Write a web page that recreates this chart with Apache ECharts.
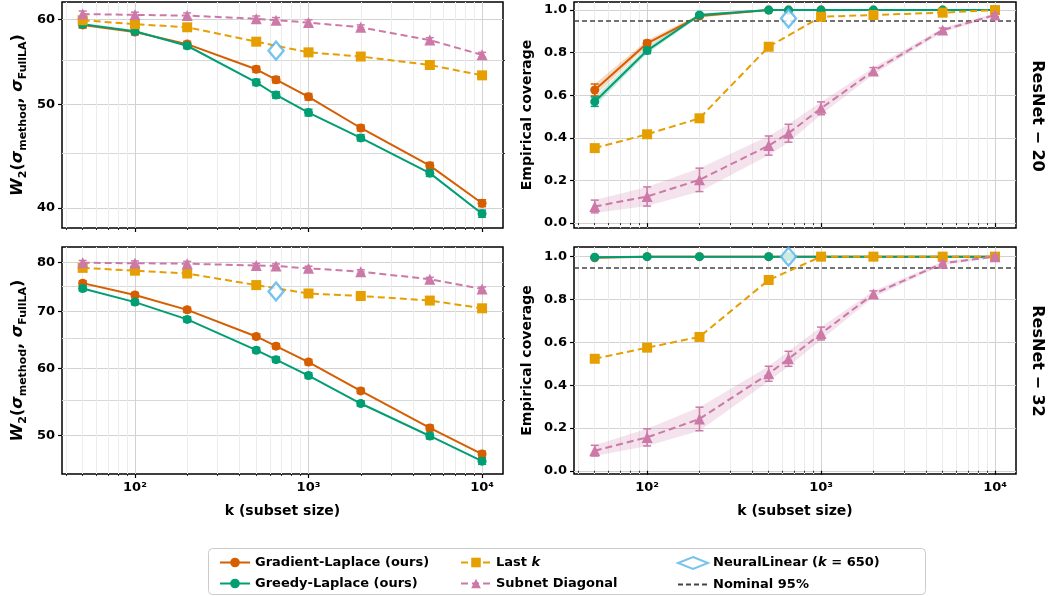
<!DOCTYPE html>
<html>
<head>
<meta charset="utf-8">
<script src="https://cdn.jsdelivr.net/npm/echarts@6/dist/echarts.min.js"></script>
<style>
html, body { margin: 0; padding: 0; background: #fff; }
#main { width: 1048px; height: 596px; }
</style>
</head>
<body>
<div id="main"></div>
<script>
// subset sizes
var K = [50, 100, 200, 500, 650, 1000, 2000, 5000, 10000];
var K_LAST = [50, 100, 200, 500, 1000, 2000, 5000, 10000];
var K_NEURAL = 650;

var X_MAJOR = [100, 1000, 10000];
var X_MINOR = [40, 50, 60, 70, 80, 90, 200, 300, 400, 500, 600, 700, 800, 900,
               2000, 3000, 4000, 5000, 6000, 7000, 8000, 9000];

// ResNet-20 : W2 distance
var W2_20_GRAD   = [59.3, 58.4, 56.9, 53.9, 52.7, 50.8, 47.5, 43.8, 40.4];
var W2_20_GREEDY = [59.4, 58.5, 56.7, 52.4, 51.0, 49.1, 46.5, 43.1, 39.5];
var W2_20_LAST   = [59.9, 59.4, 59.0, 57.2, 55.9, 55.4, 54.4, 53.2];
var W2_20_SUBNET = [60.7, 60.6, 60.5, 60.1, 59.9, 59.6, 59.0, 57.4, 55.6];
var W2_20_NEURAL = 56.1;
var W2_20_ERR    = [0.4, 0.35, 0.35, 0.35, 0.35, 0.35, 0.3, 0.3, 0.3];

// ResNet-20 : coverage
var COV_20_GRAD       = [0.625, 0.844, 0.972, 1.0, 1.0, 1.0, 1.0, 1.0, 1.0];
var COV_20_GRAD_ERR   = [0.028, 0.014, 0.008, 0.002, 0.002, 0.002, 0.002, 0.002, 0.002];
var COV_20_GREEDY     = [0.57, 0.81, 0.977, 1.0, 1.0, 1.0, 1.0, 1.0, 1.0];
var COV_20_GREEDY_ERR = [0.022, 0.014, 0.008, 0.002, 0.002, 0.002, 0.002, 0.002, 0.002];
var COV_20_LAST       = [0.352, 0.417, 0.492, 0.828, 0.969, 0.977, 0.988, 1.0];
var COV_20_LAST_ERR   = [0.008, 0.008, 0.008, 0.008, 0.006, 0.004, 0.003, 0.002];
var COV_20_SUBNET     = [0.078, 0.125, 0.203, 0.364, 0.422, 0.539, 0.714, 0.906, 0.977];
var COV_20_SUBNET_ERR = [0.03, 0.045, 0.055, 0.045, 0.042, 0.03, 0.016, 0.01, 0.008];
var COV_20_NEURAL     = 0.961;

// ResNet-32 : W2 distance
var W2_32_GRAD   = [75.6, 73.2, 70.3, 65.4, 63.7, 61.0, 56.4, 51.0, 47.5];
var W2_32_GREEDY = [74.5, 71.8, 68.5, 63.0, 61.4, 58.8, 54.5, 49.9, 46.6];
var W2_32_LAST   = [78.8, 78.2, 77.6, 75.2, 73.5, 73.0, 72.1, 70.6];
var W2_32_SUBNET = [79.9, 79.8, 79.7, 79.3, 79.2, 78.7, 78.0, 76.4, 74.4];
var W2_32_NEURAL = 73.9;
var W2_32_ERR    = [0.5, 0.5, 0.5, 0.45, 0.45, 0.45, 0.4, 0.4, 0.4];

// ResNet-32 : coverage
var COV_32_GRAD       = [0.995, 1.0, 1.0, 1.0, 1.0, 1.0, 1.0, 1.0, 1.0];
var COV_32_GRAD_ERR   = [0.004, 0, 0, 0, 0, 0, 0, 0, 0];
var COV_32_GREEDY     = [0.997, 1.0, 1.0, 1.0, 1.0, 1.0, 1.0, 1.0, 1.0];
var COV_32_GREEDY_ERR = [0.003, 0, 0, 0, 0, 0, 0, 0, 0];
var COV_32_LAST       = [0.523, 0.575, 0.625, 0.891, 1.0, 1.0, 1.0, 1.0];
var COV_32_LAST_ERR   = [0.008, 0.008, 0.008, 0.006, 0, 0, 0, 0];
var COV_32_SUBNET     = [0.094, 0.156, 0.242, 0.453, 0.523, 0.641, 0.825, 0.969, 1.0];
var COV_32_SUBNET_ERR = [0.025, 0.04, 0.055, 0.035, 0.035, 0.03, 0.015, 0.008, 0.005];
var COV_32_NEURAL     = 1.0;

var NOMINAL = 0.95;

var C_GRAD = '#D55E00', C_GREEDY = '#009E73', C_LAST = '#E69F00',
    C_SUBNET = '#CC79A7', C_NEURAL = '#56B4E9';
var FONT = 'DejaVu Sans';

var chart = echarts.init(document.getElementById('main'));

var grids = [
  { left: 62, top: 2, width: 441, height: 226 },
  { left: 574, top: 2, width: 442, height: 226 },
  { left: 62, top: 247, width: 441, height: 227 },
  { left: 574, top: 247, width: 442, height: 227 }
];
grids.forEach(function (g) {
  g.show = true; g.borderColor = '#000'; g.borderWidth = 1.5;
  g.backgroundColor = 'transparent'; g.containLabel = false;
});

var SUP = { 2: '\u00b2', 3: '\u00b3', 4: '\u2074' };

function xAxes(gi, withLabels) {
  return [
    {
      type: 'log', logBase: 10, gridIndex: gi, min: 38, max: 13200, position: 'bottom',
      axisLine: { show: false },
      axisTick: { customValues: X_MAJOR, length: 4, lineStyle: { color: '#000', width: 1.2 } },
      axisLabel: {
        show: withLabels, customValues: X_MAJOR, margin: 7,
        color: '#000', fontFamily: FONT, fontWeight: 'bold', fontSize: 13,
        formatter: function (v) { return '10' + SUP[Math.round(Math.log10(v))]; }
      },
      splitLine: { show: true, lineStyle: { color: '#d2d2d2', width: 1 } },
      name: withLabels ? 'k (subset size)' : '', nameLocation: 'middle', nameGap: 30,
      nameTextStyle: { color: '#000', fontFamily: FONT, fontWeight: 'bold', fontSize: 14 }
    },
    {
      type: 'log', logBase: 10, gridIndex: gi, min: 38, max: 13200, position: 'bottom',
      axisLine: { show: false },
      axisTick: { customValues: X_MINOR, length: 2, lineStyle: { color: '#000', width: 0.8 } },
      axisLabel: { show: false },
      splitLine: { show: true, lineStyle: { color: '#ececec', width: 1 } }
    }
  ];
}

var W2_NAME = '{w|W}{s|2}{p|(}{w|\u03c3}{s|method}{p|, }{w|\u03c3}{s|FullLA}{p|)}';
var W2_RICH = {
  w: { fontFamily: FONT, fontWeight: 'bold', fontStyle: 'italic', fontSize: 16, lineHeight: 22, color: '#000' },
  p: { fontFamily: FONT, fontWeight: 'bold', fontSize: 16, lineHeight: 22, color: '#000' },
  s: { fontFamily: FONT, fontWeight: 'bold', fontSize: 11, lineHeight: 12, verticalAlign: 'bottom', color: '#000' }
};

function yAxesW2(gi, min, max, major, minor) {
  return [
    {
      type: 'log', logBase: 10, gridIndex: gi, min: min, max: max,
      axisLine: { show: false },
      axisTick: { customValues: major, length: 4, lineStyle: { color: '#000', width: 1.2 } },
      axisLabel: { customValues: major, color: '#000', fontFamily: FONT, fontWeight: 'bold', fontSize: 13, margin: 7 },
      splitLine: { show: true, lineStyle: { color: '#d2d2d2' } },
      name: W2_NAME, nameLocation: 'middle', nameGap: 33,
      nameTextStyle: { rich: W2_RICH }
    },
    {
      type: 'log', logBase: 10, gridIndex: gi, min: min, max: max,
      axisLine: { show: false },
      axisTick: { customValues: minor, length: 2, lineStyle: { color: '#000', width: 0.8 } },
      axisLabel: { show: false },
      splitLine: { show: true, lineStyle: { color: '#d8d8d8' } }
    }
  ];
}

function yAxesCov(gi, min, max) {
  var ticks = [0, 0.2, 0.4, 0.6, 0.8, 1.0];
  return [
    {
      type: 'value', gridIndex: gi, min: min, max: max,
      axisLine: { show: false },
      axisTick: { customValues: ticks, length: 4, lineStyle: { color: '#000', width: 1.2 } },
      axisLabel: {
        customValues: ticks, color: '#000', fontFamily: FONT, fontWeight: 'bold', fontSize: 13, margin: 7,
        formatter: function (v) { return v.toFixed(1); }
      },
      splitLine: { show: true, lineStyle: { color: '#d2d2d2' } },
      name: 'Empirical coverage', nameLocation: 'middle', nameGap: 40,
      nameTextStyle: { color: '#000', fontFamily: FONT, fontWeight: 'bold', fontSize: 14 }
    },
    {
      type: 'value', gridIndex: gi, min: min, max: max, show: false
    }
  ];
}

function zip(xs, ys) { return xs.map(function (x, i) { return [x, ys[i]]; }); }

function lineSeries(gi, name, xs, ys, color, symbol, size, dashed, z) {
  return {
    type: 'line', name: name, xAxisIndex: 2 * gi, yAxisIndex: 2 * gi,
    data: zip(xs, ys), symbol: symbol, symbolSize: size, showSymbol: true,
    itemStyle: { color: color },
    lineStyle: { color: color, width: 2, type: dashed ? [7, 4] : 'solid' },
    z: z, animation: false
  };
}

function errorSeries(gi, xs, ys, errs, color, z) {
  return {
    type: 'custom', xAxisIndex: 2 * gi, yAxisIndex: 2 * gi, z: z, silent: true, animation: false,
    itemStyle: { color: color },
    data: xs.map(function (x, i) { return [x, ys[i] - errs[i], ys[i] + errs[i]]; }),
    renderItem: function (params, api) {
      var x = api.value(0);
      var a = api.coord([x, api.value(1)]), b = api.coord([x, api.value(2)]);
      var st = { stroke: color, lineWidth: 1.5 };
      var c = 4;
      return { type: 'group', children: [
        { type: 'line', shape: { x1: a[0], y1: a[1], x2: b[0], y2: b[1] }, style: st },
        { type: 'line', shape: { x1: a[0] - c, y1: a[1], x2: a[0] + c, y2: a[1] }, style: st },
        { type: 'line', shape: { x1: b[0] - c, y1: b[1], x2: b[0] + c, y2: b[1] }, style: st }
      ] };
    }
  };
}

function bandSeries(gi, xs, ys, errs, color) {
  var rows = xs.map(function (x, i) { return [x, ys[i] - errs[i], ys[i] + errs[i]]; });
  return {
    type: 'custom', xAxisIndex: 2 * gi, yAxisIndex: 2 * gi, z: 1, silent: true, animation: false,
    data: rows,
    renderItem: function (params, api) {
      if (params.dataIndex !== 0) return null;
      var pts = [];
      rows.forEach(function (r) { pts.push(api.coord([r[0], r[1]])); });
      for (var i = rows.length - 1; i >= 0; i--) pts.push(api.coord([rows[i][0], rows[i][2]]));
      return { type: 'polygon', shape: { points: pts }, style: { fill: color, opacity: 0.22 } };
    }
  };
}

function neuralSeries(gi, y) {
  return {
    type: 'scatter', name: 'NeuralLinear (k = 650)', xAxisIndex: 2 * gi, yAxisIndex: 2 * gi,
    data: [[K_NEURAL, y]], symbol: 'diamond', symbolSize: [15, 18],
    itemStyle: { color: '#fff', borderColor: C_NEURAL, borderWidth: 2.4 }, z: 10, animation: false
  };
}

function nominalSeries(gi) {
  return {
    type: 'line', name: 'Nominal 95%', xAxisIndex: 2 * gi, yAxisIndex: 2 * gi, data: [],
    symbol: 'none', itemStyle: { color: '#444' },
    lineStyle: { color: '#444', width: 1.5, type: [5, 3] },
    markLine: {
      silent: true, symbol: 'none', animation: false, label: { show: false },
      lineStyle: { color: '#444', width: 1.5, type: [5, 3] },
      data: [{ yAxis: NOMINAL }]
    },
    z: 9
  };
}

var NAMES = ['Gradient-Laplace (ours)', 'Greedy-Laplace (ours)', 'Last k', 'Subnet Diagonal'];

function panelSeries(gi, d) {
  var s = [];
  if (d.subnetBand) s.push(bandSeries(gi, K, d.subnet, d.subnetBand, C_SUBNET));
  if (d.gradBand) s.push(bandSeries(gi, K, d.grad, d.gradBand, C_GRAD));
  if (d.greedyBand) s.push(bandSeries(gi, K, d.greedy, d.greedyBand, C_GREEDY));
  s.push(errorSeries(gi, K, d.grad, d.gradErr, C_GRAD, 3));
  s.push(lineSeries(gi, NAMES[0], K, d.grad, C_GRAD, 'circle', 9, false, 4));
  s.push(errorSeries(gi, K, d.greedy, d.greedyErr, C_GREEDY, 5));
  s.push(lineSeries(gi, NAMES[1], K, d.greedy, C_GREEDY, 'circle', 9, false, 6));
  s.push(errorSeries(gi, K_LAST, d.last, d.lastErr, C_LAST, 7));
  s.push(lineSeries(gi, NAMES[2], K_LAST, d.last, C_LAST, 'rect', 10, true, 7));
  s.push(errorSeries(gi, K, d.subnet, d.subnetErr, C_SUBNET, 8));
  s.push(lineSeries(gi, NAMES[3], K, d.subnet, C_SUBNET, 'triangle', 11, true, 8));
  if (d.nominal) s.push(nominalSeries(gi));
  s.push(neuralSeries(gi, d.neural));
  return s;
}

var series = [].concat(
  panelSeries(0, { grad: W2_20_GRAD, greedy: W2_20_GREEDY, last: W2_20_LAST, subnet: W2_20_SUBNET,
    gradErr: W2_20_ERR, greedyErr: W2_20_ERR, lastErr: W2_20_ERR, subnetErr: W2_20_ERR, neural: W2_20_NEURAL }),
  panelSeries(1, { grad: COV_20_GRAD, greedy: COV_20_GREEDY, last: COV_20_LAST, subnet: COV_20_SUBNET,
    gradErr: COV_20_GRAD_ERR, greedyErr: COV_20_GREEDY_ERR, lastErr: COV_20_LAST_ERR, subnetErr: COV_20_SUBNET_ERR,
    subnetBand: COV_20_SUBNET_ERR, gradBand: COV_20_GRAD_ERR, greedyBand: COV_20_GREEDY_ERR,
    neural: COV_20_NEURAL, nominal: true }),
  panelSeries(2, { grad: W2_32_GRAD, greedy: W2_32_GREEDY, last: W2_32_LAST, subnet: W2_32_SUBNET,
    gradErr: W2_32_ERR, greedyErr: W2_32_ERR, lastErr: W2_32_ERR, subnetErr: W2_32_ERR, neural: W2_32_NEURAL }),
  panelSeries(3, { grad: COV_32_GRAD, greedy: COV_32_GREEDY, last: COV_32_LAST, subnet: COV_32_SUBNET,
    gradErr: COV_32_GRAD_ERR, greedyErr: COV_32_GREEDY_ERR, lastErr: COV_32_LAST_ERR, subnetErr: COV_32_SUBNET_ERR,
    subnetBand: COV_32_SUBNET_ERR, neural: COV_32_NEURAL, nominal: true })
);

var legendText = {
  color: '#000', fontFamily: FONT, fontWeight: 'bold', fontSize: 13,
  rich: {
    b: { fontFamily: FONT, fontWeight: 'bold', fontSize: 13, color: '#000' },
    i: { fontFamily: FONT, fontWeight: 'bold', fontStyle: 'italic', fontSize: 13, color: '#000' }
  }
};
function legendFmt(name) {
  if (name === 'Last k') return '{b|Last }{i|k}';
  if (name === 'NeuralLinear (k = 650)') return '{b|NeuralLinear (}{i|k}{b| = 650)}';
  return '{b|' + name + '}';
}
function legendAt(left, names) {
  return {
    data: names, orient: 'vertical', left: left, top: 556, itemGap: 8, padding: 0,
    itemWidth: 30, itemHeight: 12, selectedMode: false, symbolKeepAspect: true,
    textStyle: legendText, formatter: legendFmt
  };
}

var option = {
  backgroundColor: '#fff',
  animation: false,
  grid: grids,
  xAxis: [].concat(xAxes(0, false), xAxes(1, false), xAxes(2, true), xAxes(3, true)),
  yAxis: [].concat(
    yAxesW2(0, 38.3, 62.3, [40, 50, 60], [45, 55]),
    yAxesCov(1, -0.023, 1.038),
    yAxesW2(2, 45.0, 83.4, [50, 60, 70, 80], [55, 65, 75]),
    yAxesCov(3, -0.015, 1.045)
  ),
  legend: [
    legendAt(219, [NAMES[0], NAMES[1]]),
    legendAt(460, [NAMES[2], NAMES[3]]),
    legendAt(677, [{ name: 'NeuralLinear (k = 650)', icon: 'diamond' },
                   { name: 'Nominal 95%', itemStyle: { opacity: 0 } }])
  ],
  graphic: [
    { type: 'rect', left: 208, top: 548, shape: { width: 717, height: 46, r: 4 },
      style: { fill: '#fff', stroke: '#cccccc', lineWidth: 1 }, z: -1 },
    { type: 'text', x: 1037, y: 116, rotation: -Math.PI / 2,
      style: { text: 'ResNet \u2212 20', font: 'bold 16px "DejaVu Sans"', fill: '#000', align: 'center', verticalAlign: 'middle' } },
    { type: 'text', x: 1037, y: 361, rotation: -Math.PI / 2,
      style: { text: 'ResNet \u2212 32', font: 'bold 16px "DejaVu Sans"', fill: '#000', align: 'center', verticalAlign: 'middle' } }
  ],
  series: series
};

chart.setOption(option);
window.onresize = chart.resize;
</script>
</body>
</html>
